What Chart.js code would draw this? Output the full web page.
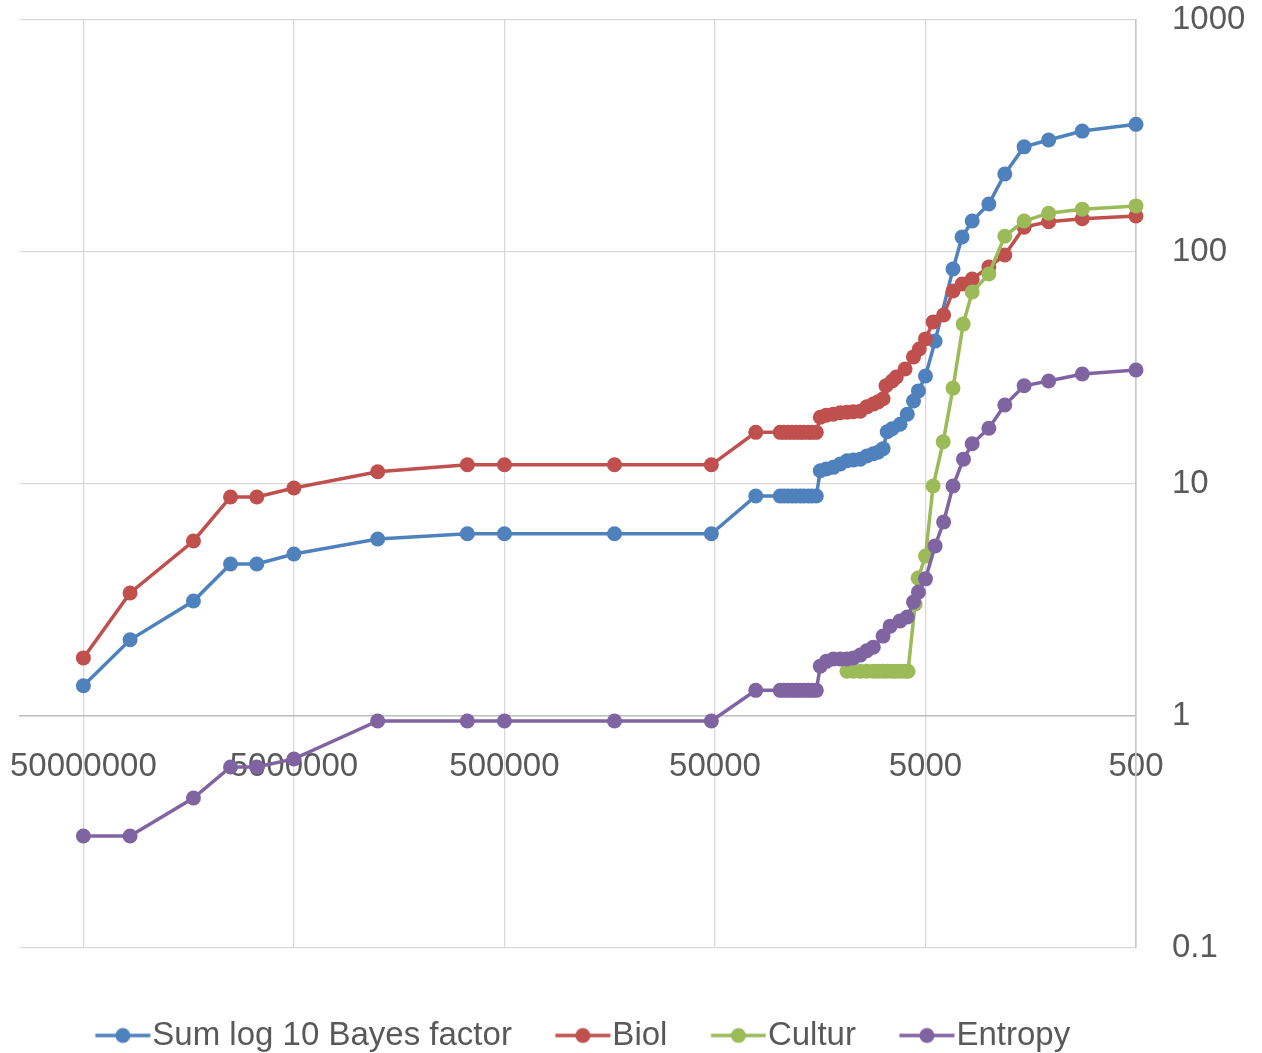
<!DOCTYPE html>
<html>
<head>
<meta charset="utf-8">
<script src="https://cdn.jsdelivr.net/npm/chart.js@4.4.1/dist/chart.umd.min.js"></script>
<style>
  html, body { margin: 0; padding: 0; background: #fff; }
  #wrap { width: 1262px; height: 1053px; }
</style>
</head>
<body>
<div id="wrap"><canvas id="myChart" width="1262" height="1053"></canvas></div>
<script>
// ---------- axes ----------
const xTicks = [50000000, 5000000, 500000, 50000, 5000, 500];
const yTicks = [0.1, 1, 10, 100, 1000];

const seriesNames  = ["Sum log 10 Bayes factor", "Biol", "Cultur", "Entropy"];
const seriesColors = ["#4F81BD", "#C0504D", "#9BBB59", "#8064A2"];

// ---------- x values shared by Sum / Biol / Entropy ----------
const xEarly   = [50000000, 30000000, 15000000, 10000000, 7500000, 5000000, 2000000, 750000, 500000, 150000, 52000, 32000];
const xPlateau = [24500, 23500, 22500, 21500, 20600, 19700, 18900, 18000, 17300, 16500];

// ---------- Sum log 10 Bayes factor ----------
const sumEarly   = [1.35, 2.13, 3.13, 4.52, 4.52, 4.99, 5.79, 6.1, 6.1, 6.1, 6.1, 8.88];
const sumPlateau = [8.88, 8.88, 8.88, 8.88, 8.88, 8.88, 8.88, 8.88, 8.88, 8.88];
const sumLateX = [15800, 14800, 13700, 12700, 11800, 11000, 10200, 9500, 8850, 8400,
                  7950, 7600, 7200, 6600, 6100, 5700, 5400, 5000, 4500, 3700,
                  3350, 3000, 2500, 2100, 1700, 1300, 900, 500];
const sumLateY = [11.4, 11.6, 11.8, 12.2, 12.6, 12.7, 12.8, 13.2, 13.5, 13.7,
                  14.2, 16.8, 17.3, 18.1, 20.0, 22.8, 25.2, 29.2, 41.3, 84.5,
                  116, 136, 161, 217, 284, 304, 332, 355];

// ---------- Biol ----------
const biolEarly   = [1.78, 3.39, 5.68, 8.79, 8.79, 9.61, 11.3, 12.1, 12.1, 12.1, 12.1, 16.7];
const biolPlateau = [16.7, 16.7, 16.7, 16.7, 16.7, 16.7, 16.7, 16.7, 16.7, 16.7];
const biolLateX = [15800, 14800, 13700, 12700, 11800, 11000, 10200, 9500, 8850, 8400,
                   7950, 7700, 7200, 6880, 6250, 5700, 5350, 5000, 4600, 4100,
                   3700, 3350, 3000, 2500, 2100, 1700, 1300, 900, 500];
const biolLateY = [19.4, 19.8, 20.0, 20.3, 20.4, 20.5, 20.6, 21.5, 22.1, 22.6,
                   23.3, 26.5, 27.8, 28.9, 31.3, 35.3, 38.2, 42.2, 49.9, 53.5,
                   67.9, 72.8, 76.5, 86.1, 97.1, 128, 135, 139, 143];

// ---------- Cultur ----------
const culturX = [11800, 11000, 10200, 9500, 8850, 8400, 7950, 7600, 7200, 6900, 6600, 6300, 6050,
                 5600, 5420, 5000, 4600, 4120, 3700, 3310, 3000, 2500, 2100, 1700, 1300, 900, 500];
const culturY = [1.56, 1.56, 1.56, 1.56, 1.56, 1.56, 1.56, 1.56, 1.56, 1.56, 1.56, 1.56, 1.56,
                 3.04, 3.93, 4.89, 9.8, 15.2, 25.9, 48.9, 67.2, 80.4, 117, 136, 147, 153, 158];

// ---------- Entropy ----------
const entEarly   = [0.304, 0.304, 0.443, 0.603, 0.603, 0.653, 0.952, 0.952, 0.952, 0.952, 0.952, 1.29];
const entPlateau = [1.29, 1.29, 1.29, 1.29, 1.29, 1.29, 1.29, 1.29, 1.29, 1.29];
const entLateX = [15800, 14800, 13700, 12700, 11800, 11000, 10200, 9500, 8850, 7950,
                  7360, 6600, 6100, 5700, 5400, 5000, 4500, 4100, 3700, 3300,
                  3000, 2500, 2100, 1700, 1300, 900, 500];
const entLateY = [1.64, 1.72, 1.76, 1.76, 1.76, 1.78, 1.83, 1.91, 1.98, 2.21,
                  2.44, 2.57, 2.67, 3.10, 3.42, 3.90, 5.41, 6.86, 9.8, 12.8,
                  14.9, 17.4, 21.9, 26.5, 27.8, 29.8, 31.0];

// ---------- helpers ----------
const FONT = "'Liberation Sans', Arial, sans-serif";
const TEXT = "#595959";
const GRID = "#d9d9d9";

const pairs = (xs, ys) => xs.map((x, i) => ({ x, y: ys[i] }));

// legend glyph: short line with a dot in the middle (Excel style)
function legendGlyph(color) {
  const c = document.createElement("canvas");
  c.width = 80; c.height = 20;
  const g = c.getContext("2d");
  g.strokeStyle = color; g.lineWidth = 3.5;
  g.beginPath(); g.moveTo(24.5, 10); g.lineTo(79.5, 10); g.stroke();
  g.fillStyle = color;
  g.beginPath(); g.arc(52, 10, 7.5, 0, Math.PI * 2); g.fill();
  return c;
}
const glyphs = seriesColors.map(legendGlyph);

const seriesData = [
  pairs([...xEarly, ...xPlateau, ...sumLateX],  [...sumEarly, ...sumPlateau, ...sumLateY]),
  pairs([...xEarly, ...xPlateau, ...biolLateX], [...biolEarly, ...biolPlateau, ...biolLateY]),
  pairs(culturX, culturY),
  pairs([...xEarly, ...xPlateau, ...entLateX],  [...entEarly, ...entPlateau, ...entLateY]),
];

Chart.defaults.font.family = FONT;

const datasets = seriesNames.map((name, i) => ({
  label: name,
  data: seriesData[i],
  borderColor: seriesColors[i],
  backgroundColor: seriesColors[i],
  pointBackgroundColor: seriesColors[i],
  borderWidth: 3.5,
  pointRadius: 7.5,
  pointHoverRadius: 7.5,
  pointBorderWidth: 0,
  tension: 0,
  clip: false,
  order: seriesNames.length - i,   // later series drawn on top, like Excel
}));

new Chart(document.getElementById("myChart").getContext("2d"), {
  type: "line",
  data: { datasets },
  options: {
    responsive: false,
    animation: false,
    layout: { padding: { left: 20, top: 20, right: 0, bottom: -9 } },
    plugins: {
      tooltip: { enabled: false },
      legend: {
        position: "bottom",
        fullSize: false,
        align: "center",
        // empty title = spacer between plot and legend row
        title: { display: true, text: "", padding: 0, font: { size: 37, lineHeight: 1 } },
        labels: {
          usePointStyle: true,
          pointStyleWidth: 50,
          padding: 34,
          color: TEXT,
          font: { size: 33 },
          generateLabels(chart) {
            const items = Chart.defaults.plugins.legend.labels.generateLabels(chart);
            items.forEach(it => { it.pointStyle = glyphs[it.datasetIndex]; });
            return items.sort((a, b) => a.datasetIndex - b.datasetIndex);
          }
        }
      }
    },
    scales: {
      x: {
        type: "logarithmic",
        reverse: true,
        min: 500,
        max: 100000000,
        position: { y: 1 },
        afterBuildTicks: s => { s.ticks = xTicks.map(v => ({ value: v })); },
        // invisible tick marks push the labels down without adding layout padding
        grid: { color: GRID, lineWidth: 1.3, drawTicks: true, tickLength: 31, tickColor: "rgba(0,0,0,0)" },
        border: { display: true, color: "#bfbfbf", width: 1.6 },
        ticks: {
          autoSkip: false, maxRotation: 0, minRotation: 0,
          padding: 0, color: TEXT, font: { size: 33 },
          callback: v => String(v)
        }
      },
      y: {
        type: "logarithmic",
        position: "right",
        min: 0.1,
        max: 1000,
        afterBuildTicks: s => { s.ticks = yTicks.map(v => ({ value: v })); },
        afterFit: s => { s.width = 126; },
        grid: { color: GRID, lineWidth: 1.3, drawTicks: true, tickLength: 36, tickColor: "rgba(0,0,0,0)" },
        border: { display: true, color: "#c8c8c8", width: 1.6 },
        ticks: {
          padding: 0, color: TEXT, font: { size: 33 },
          callback: v => String(v)
        }
      }
    }
  }
});
</script>
</body>
</html>
